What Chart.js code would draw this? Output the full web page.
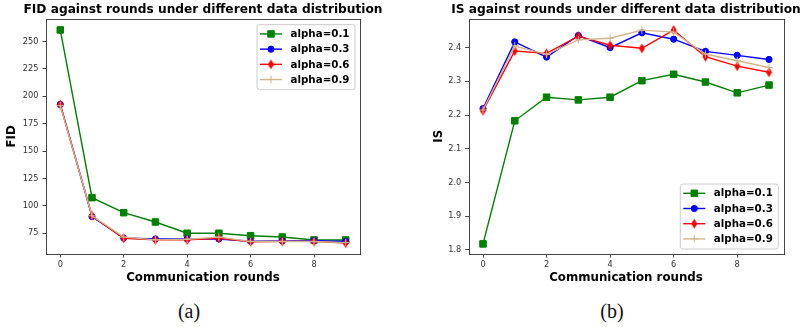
<!DOCTYPE html>
<html>
<head>
<meta charset="utf-8">
<script src="https://cdn.jsdelivr.net/npm/chart.js@4.4.0/dist/chart.umd.min.js"></script>
<style>
  html, body { margin: 0; padding: 0; background: #fff; width: 803px; height: 327px; overflow: hidden; }
  .box { position: absolute; top: 0; height: 290px; }
  .cap { position: absolute; top: 300px; font-family: "Liberation Serif", "DejaVu Serif", serif; font-size: 20px; color: #111; transform: translateX(-50%); }
</style>
</head>
<body>
<div class="box" style="left:0;width:406px;"><canvas id="fidChart" width="406" height="290"></canvas></div>
<div class="box" style="left:420px;width:383px;"><canvas id="isChart" width="383" height="290"></canvas></div>
<div class="cap" style="left:189px;">(a)</div>
<div class="cap" style="left:612px;">(b)</div>

<script>
/* ---------- данные ---------- */
const rounds = [0, 1, 2, 3, 4, 5, 6, 7, 8, 9];
const xTicks = [0, 2, 4, 6, 8];

const seriesLabels = ["alpha=0.1", "alpha=0.3", "alpha=0.6", "alpha=0.9"];

// FID
const fidAlpha01 = [260.5, 107.5, 93.8, 85.3, 75.0, 75.0, 72.8, 71.6, 68.9, 68.9];
const fidAlpha03 = [192.5, 90.2, 70.7, 69.8, 69.8, 69.8, 67.7, 68.0, 68.3, 67.5];
const fidAlpha06 = [192.5, 91.0, 70.5, 69.0, 69.0, 70.5, 67.3, 67.6, 67.6, 66.0];
const fidAlpha09 = [191.5, 91.0, 71.5, 69.0, 69.5, 71.5, 67.5, 67.5, 67.5, 66.5];
const fidTicks = [75, 100, 125, 150, 175, 200, 225, 250];

// IS
const isAlpha01 = [1.818, 2.183, 2.253, 2.245, 2.253, 2.302, 2.321, 2.298, 2.266, 2.289];
const isAlpha03 = [2.219, 2.417, 2.372, 2.436, 2.400, 2.444, 2.425, 2.389, 2.377, 2.365];
const isAlpha06 = [2.213, 2.390, 2.383, 2.434, 2.407, 2.398, 2.452, 2.373, 2.345, 2.327];
const isAlpha09 = [2.215, 2.405, 2.380, 2.423, 2.428, 2.452, 2.446, 2.381, 2.361, 2.341];
const isTicks = [1.8, 1.9, 2.0, 2.1, 2.2, 2.3, 2.4];

/* ---------- маркеры ---------- */
// тонкий ромб для alpha=0.6 (как 'd' в matplotlib)
function makeThinDiamond(color) {
    const c = document.createElement("canvas");
    c.width = 7; c.height = 11;
    const g = c.getContext("2d");
    g.fillStyle = color;
    g.beginPath();
    g.moveTo(3.5, 0.5);
    g.lineTo(6.5, 5.5);
    g.lineTo(3.5, 10.5);
    g.lineTo(0.5, 5.5);
    g.closePath();
    g.fill();
    return c;
}
const redDiamond = makeThinDiamond("#ff0000");

const styles = [
    { color: "#008000", pointStyle: "rect", radius: 4.6, borderWidth: 1 },
    { color: "#0000ff", pointStyle: "circle", radius: 3.1, borderWidth: 1 },
    { color: "#ff0000", pointStyle: redDiamond, radius: 4, borderWidth: 1 },
    { color: "#d2b48c", pointStyle: "cross", radius: 3.8, borderWidth: 1 }
];

function buildDatasets(seriesList) {
    return seriesList.map((values, i) => {
        const s = styles[i];
        return {
            label: seriesLabels[i],
            data: rounds.map((r, k) => ({ x: r, y: values[k] })),
            borderColor: s.color,
            backgroundColor: s.color,
            borderWidth: 1.4,
            pointStyle: s.pointStyle,
            pointRadius: s.radius,
            pointBorderWidth: s.borderWidth,
            pointBorderColor: s.color,
            pointBackgroundColor: s.color,
            tension: 0,
            order: seriesList.length - i   // как в matplotlib: последние поверх
        };
    });
}

/* ---------- плагины ---------- */
// рамка вокруг области графика
const framePlugin = {
    id: "frame",
    afterDatasetsDraw(chart) {
        const { ctx, chartArea: a } = chart;
        ctx.save();
        ctx.strokeStyle = "#444";
        ctx.lineWidth = 1;
        ctx.strokeRect(Math.round(a.left) + 0.5, Math.round(a.top) + 0.5,
            Math.round(a.right - a.left), Math.round(a.bottom - a.top));
        ctx.restore();
    }
};

// заголовок центрируем над осями, а не над всем холстом
const centerTitlePlugin = {
    id: "centerTitle",
    afterLayout(chart) {
        const t = chart.titleBlock;
        if (!t) return;
        const mid = (chart.chartArea.left + chart.chartArea.right) / 2;
        t.left = mid - 220;
        t.right = mid + 220;
    }
};

// легенда в стиле matplotlib: линия + маркер
const mplLegendPlugin = {
    id: "mplLegend",
    afterDraw(chart, args, opts) {
        const { ctx, chartArea: a } = chart;
        const w = 98, h = 65, inset = 5.5;
        const left = a.right - inset - w;
        const top = opts.where === "lower" ? a.bottom - inset - h : a.top + inset;

        ctx.save();
        ctx.fillStyle = "rgba(255,255,255,0.8)";
        ctx.strokeStyle = "#cccccc";
        ctx.lineWidth = 1;
        ctx.beginPath();
        ctx.roundRect(left + 0.5, top + 0.5, w, h, 2.5);
        ctx.fill();
        ctx.stroke();

        ctx.font = "bold 10.3px 'DejaVu Sans'";
        ctx.textBaseline = "middle";
        ctx.textAlign = "left";

        chart.data.datasets.forEach((ds, i) => {
            const y = top + 9.8 + i * 15.2;
            ctx.strokeStyle = ds.borderColor;
            ctx.lineWidth = 1.4;
            ctx.beginPath();
            ctx.moveTo(left + 3.5, y);
            ctx.lineTo(left + 25.5, y);
            ctx.stroke();

            ctx.fillStyle = ds.pointBackgroundColor;
            ctx.strokeStyle = ds.pointBorderColor;
            ctx.lineWidth = ds.pointBorderWidth;
            Chart.helpers.drawPoint(ctx, {
                pointStyle: ds.pointStyle,
                radius: ds.pointRadius,
                rotation: 0,
                borderWidth: ds.pointBorderWidth
            }, left + 14.5, y);

            ctx.fillStyle = "#000";
            ctx.fillText(ds.label, left + 34, y + 0.5);
        });
        ctx.restore();
    }
};

/* ---------- общая сборка графика ---------- */
function drawChart(canvasId, cfg) {
    const tickFont = { family: "DejaVu Sans", size: 8.2 };
    const labelFont = { family: "DejaVu Sans", size: 11.8, weight: "bold" };

    return new Chart(document.getElementById(canvasId), {
        type: "line",
        data: { datasets: buildDatasets(cfg.series) },
        plugins: [framePlugin, centerTitlePlugin, mplLegendPlugin],
        options: {
            responsive: false,
            animation: false,
            layout: { padding: { left: 0, right: cfg.padRight, top: 0, bottom: 0 } },
            plugins: {
                legend: { display: false },
                tooltip: { enabled: false },
                mplLegend: { where: cfg.legendWhere },
                title: {
                    display: true,
                    text: cfg.title,
                    color: "#000",
                    font: { family: "DejaVu Sans", size: 12.2, weight: "bold" },
                    padding: { top: 2.5, bottom: 1.5 }
                }
            },
            scales: {
                x: {
                    type: "linear",
                    min: -0.45,
                    max: 9.45,
                    afterBuildTicks: s => { s.ticks = xTicks.map(v => ({ value: v })); },
                    afterFit: s => { s.height = 36; },
                    grid: { drawOnChartArea: false, drawTicks: true, tickLength: 3.5, color: "#444" },
                    border: { display: false },
                    ticks: { color: "#333", font: tickFont, padding: 2, maxRotation: 0 },
                    title: {
                        display: true, text: "Communication rounds", color: "#000",
                        font: labelFont, padding: { top: 0, bottom: 5.1 }
                    }
                },
                y: {
                    type: "linear",
                    min: cfg.yMin,
                    max: cfg.yMax,
                    afterBuildTicks: s => { s.ticks = cfg.yTicks.map(v => ({ value: v })); },
                    afterFit: s => { s.width = cfg.yWidth; },
                    grid: { drawOnChartArea: false, drawTicks: true, tickLength: 3.5, color: "#444" },
                    border: { display: false },
                    ticks: { color: "#333", font: tickFont, padding: 4, callback: cfg.yFormat },
                    title: {
                        display: true, text: cfg.yTitle, color: "#000",
                        font: labelFont, padding: { top: cfg.yTitlePad, bottom: 0 }
                    }
                }
            }
        }
    });
}

drawChart("fidChart", {
    title: "FID against rounds under different data distribution",
    series: [fidAlpha01, fidAlpha03, fidAlpha06, fidAlpha09],
    yTicks: fidTicks,
    yMin: 56.1,
    yMax: 270.8,
    yTitle: "FID",
    yWidth: 46,
    yTitlePad: 5.3,
    padRight: 46,
    legendWhere: "upper",
    yFormat: v => String(v)
});

drawChart("isChart", {
    title: "IS against rounds under different data distribution",
    series: [isAlpha01, isAlpha03, isAlpha06, isAlpha09],
    yTicks: isTicks,
    yMin: 1.788,
    yMax: 2.486,
    yTitle: "IS",
    yWidth: 48.7,
    yTitlePad: 11.5,
    padRight: 19.7,
    legendWhere: "lower",
    yFormat: v => v.toFixed(1)
});
</script>
</body>
</html>
